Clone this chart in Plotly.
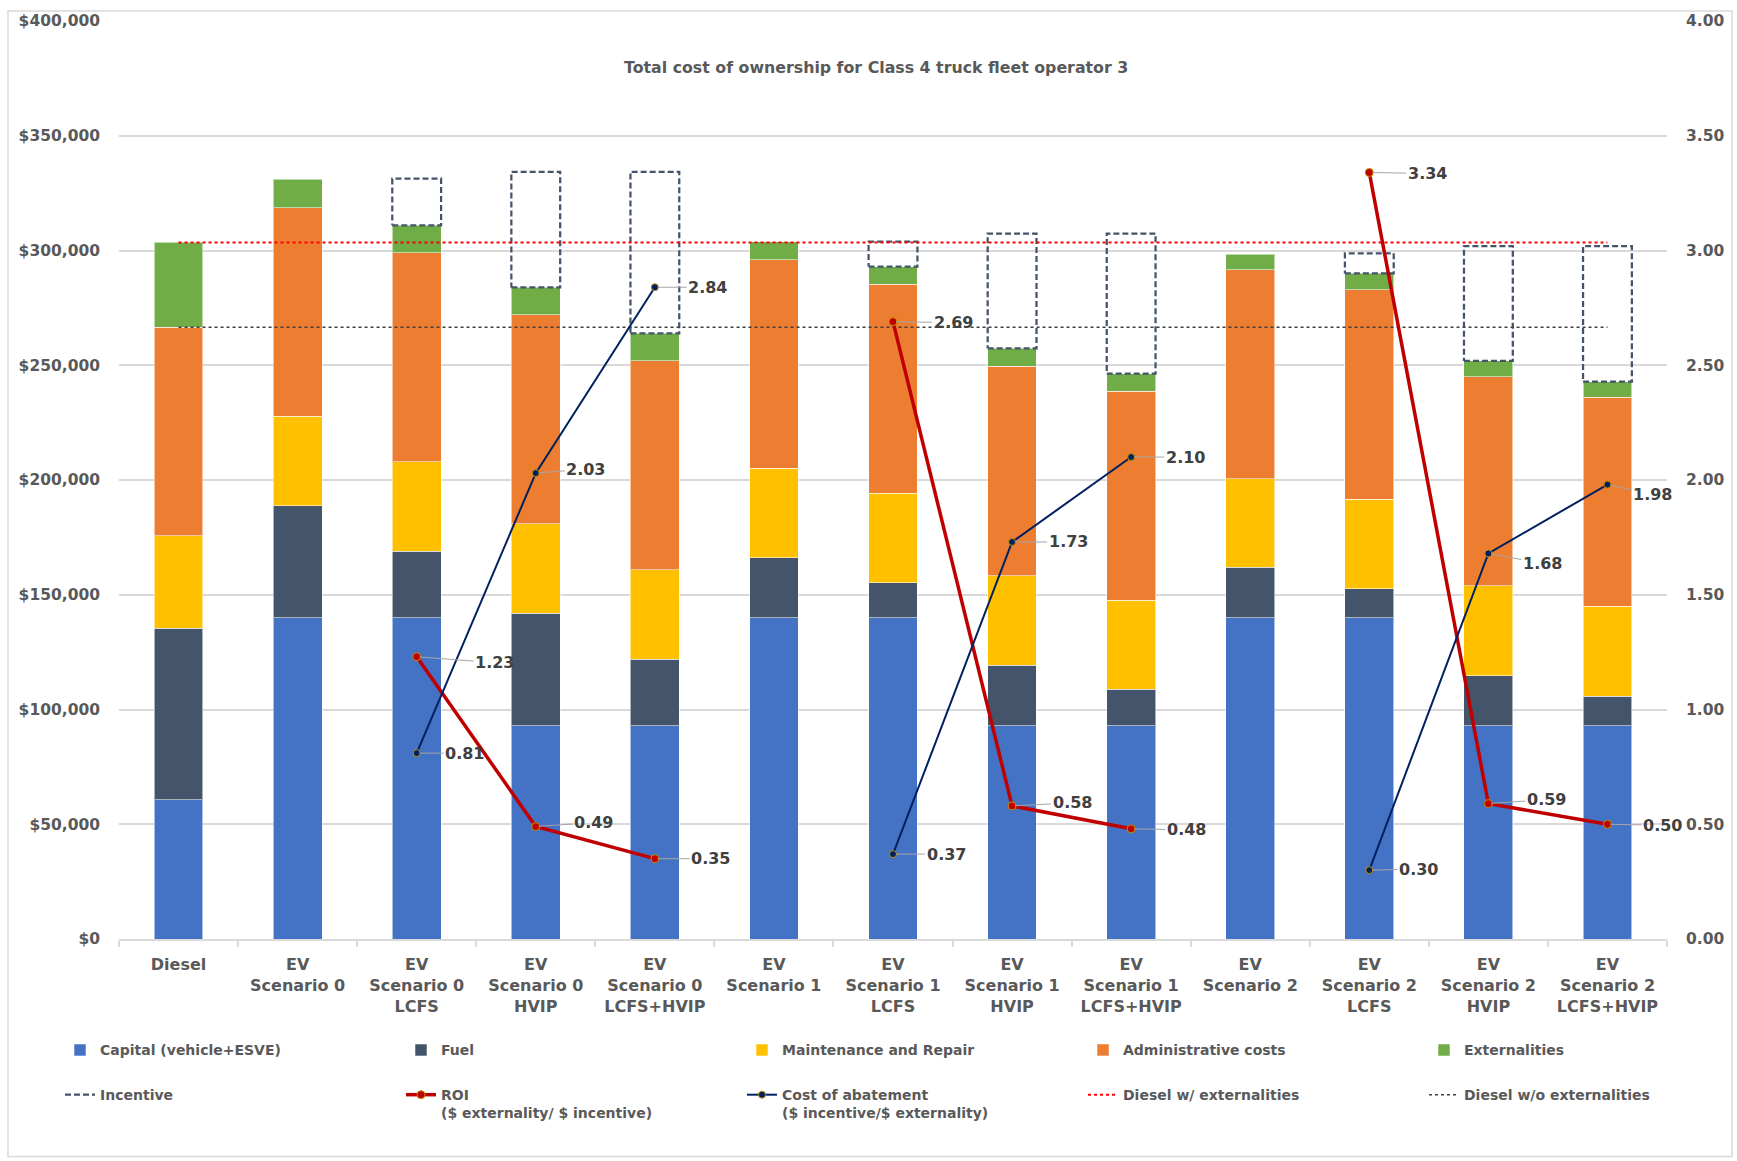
import plotly.graph_objects as go

# ---------------- data ----------------
categories = [
    "Diesel", "EV<br>Scenario 0", "EV<br>Scenario 0<br>LCFS", "EV<br>Scenario 0<br>HVIP",
    "EV<br>Scenario 0<br>LCFS+HVIP", "EV<br>Scenario 1", "EV<br>Scenario 1<br>LCFS",
    "EV<br>Scenario 1<br>HVIP", "EV<br>Scenario 1<br>LCFS+HVIP", "EV<br>Scenario 2",
    "EV<br>Scenario 2<br>LCFS", "EV<br>Scenario 2<br>HVIP", "EV<br>Scenario 2<br>LCFS+HVIP",
]
capital = [60700, 140000, 140000, 93000, 93000, 140000, 140000, 93000, 93000, 140000, 140000, 93000, 93000]
fuel = [74700, 48700, 29000, 48900, 28900, 26200, 15200, 26300, 15800, 21900, 12600, 21800, 12800]
maintenance = [40300, 39000, 39000, 39000, 39000, 39000, 39000, 39000, 38700, 38600, 39000, 39200, 39300]
administrative = [90900, 91000, 91000, 91000, 91000, 90800, 91000, 91300, 91100, 91100, 91300, 90900, 90900]
externalities = [36900, 12300, 12000, 12000, 12000, 7800, 7800, 7800, 7800, 6800, 7100, 7000, 6900]
incentive = [None, None, 20300, 50400, 70400, None, 10900, 50000, 61000, None, 8800, 50000, 59000]
roi = [None, None, 1.23, 0.49, 0.35, None, 2.69, 0.58, 0.48, None, 3.34, 0.59, 0.50]
cost_of_abatement = [None, None, 0.81, 2.03, 2.84, None, 0.37, 1.73, 2.10, None, 0.30, 1.68, 1.98]

# ---------------- style ----------------
FONT = "DejaVu Sans"
GRAY = "#595959"
LBL = "#404040"
L, R, T, B = 119, 70, 15, 222
W, H = 1737, 1161
PW, PH = W - L - R, H - T - B
BARGAP = 0.59
HALF = (1 - BARGAP) / 2

x = list(range(len(categories)))
n = len(categories)

fig = go.Figure()

stack = [
    ("Capital (vehicle+ESVE)", capital, "#4472C4"),
    ("Fuel", fuel, "#44546A"),
    ("Maintenance and Repair", maintenance, "#FFC000"),
    ("Administrative costs", administrative, "#ED7D31"),
    ("Externalities", externalities, "#70AD47"),
]
for k, (name, vals, col) in enumerate(stack):
    fig.add_trace(go.Bar(
        x=x, y=vals, name=name, marker=dict(color=col, line=dict(color="rgba(255,255,255,0.55)", width=1)),
        legend="legend" if k == 0 else f"legend{k+1}",
    ))

# incentive dashed boxes on top of each stack
totals = [sum(v) for v in zip(capital, fuel, maintenance, administrative, externalities)]
bx, by = [], []
for i, inc in enumerate(incentive):
    if inc is None:
        continue
    base, top = totals[i], totals[i] + inc
    bx += [i - HALF, i + HALF, i + HALF, i - HALF, i - HALF, None]
    by += [base, base, top, top, base, None]
fig.add_trace(go.Scatter(
    x=bx, y=by, mode="lines", name="Incentive",
    line=dict(color="#44546A", width=2.25, dash="6px,3px"), legend="legend6",
))

diesel_w = [totals[0]] * n
diesel_wo = [totals[0] - externalities[0]] * n
fig.add_trace(go.Scatter(
    x=x, y=diesel_w, mode="lines", name="Diesel w/ externalities",
    line=dict(color="#FF0000", width=2, dash="dot"), legend="legend9",
))
fig.add_trace(go.Scatter(
    x=x, y=diesel_wo, mode="lines", name="Diesel w/o externalities",
    line=dict(color="#404040", width=1.5, dash="dot"), legend="legend10",
))

fig.add_trace(go.Scatter(
    x=x, y=roi, yaxis="y2", mode="lines+markers", name="ROI<br>($ externality/ $ incentive)",
    line=dict(color="#C00000", width=3.5), connectgaps=False,
    marker=dict(size=8, color="#C00000", line=dict(color="#BF9000", width=1)), legend="legend7",
))
fig.add_trace(go.Scatter(
    x=x, y=cost_of_abatement, yaxis="y2", mode="lines+markers",
    name="Cost of abatement<br>($ incentive/$ externality)",
    line=dict(color="#002060", width=2), connectgaps=False,
    marker=dict(size=7, color="#002060", line=dict(color="#BF9000", width=1)), legend="legend8",
))

# data labels with leader lines
roi_off = {2: (78, 6), 3: (58, -4), 4: (56, 0), 6: (60, 1), 7: (60, -3), 8: (55, 1), 10: (58, 1), 11: (58, -4), 12: (55, 1)}
coa_off = {2: (48, 0), 3: (50, -4), 4: (53, 0), 6: (53, 0), 7: (56, 0), 8: (54, 0), 10: (49, -1), 11: (54, 10), 12: (45, 10)}
annotations = []
for series, offs in ((roi, roi_off), (cost_of_abatement, coa_off)):
    for i, v in enumerate(series):
        if v is None:
            continue
        ax, ay = offs.get(i, (52, 0))
        annotations.append(dict(
            x=i, y=v, xref="x", yref="y2", text=f"{v:.2f}", showarrow=True,
            ax=ax, ay=ay, axref="pixel", ayref="pixel", arrowhead=0, arrowwidth=1,
            arrowcolor="#A6A6A6", standoff=3,
            font=dict(family=FONT, size=16, color=LBL, weight="bold"),
        ))

annotations.append(dict(
    text="Total cost of ownership for Class 4 truck fleet operator 3",
    xref="paper", yref="paper", x=(876 - L) / PW, y=(H - B - 62) / PH,
    xanchor="center", yanchor="middle", showarrow=False,
    font=dict(family=FONT, size=15.8, color=GRAY, weight="bold"),
))

# legends: one per entry, placed in a 5 x 2 grid
col_px = [60, 401, 742, 1083, 1424]
row_px = [1035, 1080]
legends = {}
for k in range(10):
    key = "legend" if k == 0 else f"legend{k+1}"
    cx = col_px[k % 5]
    ry = row_px[k // 5]
    legends[key] = dict(
        x=(cx - L) / PW, y=(H - B - ry) / PH, xanchor="left", yanchor="top",
        orientation="v", valign="top", bgcolor="rgba(0,0,0,0)",
        font=dict(family=FONT, size=14, color=GRAY, weight="bold"),
    )

tickfont = dict(family=FONT, size=15.5, color=GRAY, weight="bold")
fig.update_layout(
    width=W, height=H, autosize=False,
    margin=dict(l=L, r=R, t=T, b=B, pad=0),
    paper_bgcolor="white", plot_bgcolor="white",
    barmode="stack", bargap=BARGAP,
    showlegend=True,
    annotations=annotations,
    xaxis=dict(
        range=[-0.5, n - 0.5], tickmode="array", tickvals=x, ticktext=categories,
        ticks="", showline=True, linecolor="#D9D9D9", linewidth=1.5, showgrid=False, zeroline=False,
        tickfont=dict(family=FONT, size=16, color=GRAY, weight="bold"), ticklabelstandoff=10,
        minor=dict(tickmode="array", tickvals=[i - 0.5 for i in range(n + 1)], ticks="outside",
                   ticklen=6, tickcolor="#D9D9D9", tickwidth=1.5, showgrid=False),
    ),
    yaxis=dict(
        range=[0, 400000], dtick=50000, tickprefix="$", tickformat=",d",
        showgrid=True, gridcolor="#D9D9D9", gridwidth=1.5, zeroline=False, showline=False,
        tickfont=tickfont, ticklabelstandoff=18,
    ),
    yaxis2=dict(
        range=[0, 4], dtick=0.5, tickformat=".2f", overlaying="y", side="right",
        showgrid=False, zeroline=False, showline=False, tickfont=tickfont, ticklabelstandoff=18,
    ),
    shapes=[dict(
        type="rect", xref="paper", yref="paper",
        x0=(8 - L) / PW, x1=(1732 - L) / PW, y0=(H - B - 1158) / PH, y1=(H - B - 5) / PH,
        line=dict(color="#D9D9D9", width=1.5), fillcolor="rgba(0,0,0,0)", layer="below",
    )],
    **legends,
)

fig.write_html("out.html")
